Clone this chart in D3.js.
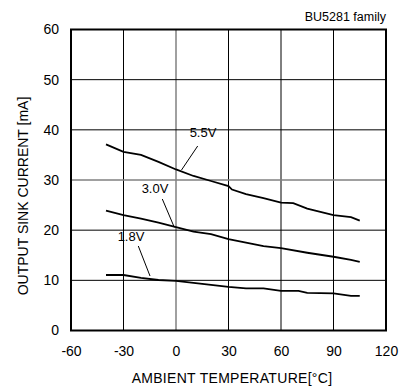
<!DOCTYPE html>
<html><head><meta charset="utf-8">
<script src="https://cdn.jsdelivr.net/npm/d3@7"></script>
<style>body{margin:0;background:#fff;}svg{display:block;font-family:"Liberation Sans",Arial,sans-serif;}</style>
</head><body>
<svg id="c" width="408" height="387"></svg>
<script>
const temps = [-40,-30,-20,-10,0,10,20,30,32,40,50,60,67,75,90,100,105];
const v55 = [37.1,35.6,35.0,33.6,32.1,30.8,29.8,28.8,28.1,27.2,26.4,25.5,25.4,24.3,23.0,22.6,21.9];
const t30 = [-40,-30,-20,-10,0,10,20,30,40,50,60,75,90,100,105];
const v30 = [23.9,23.0,22.3,21.5,20.6,19.7,19.2,18.2,17.5,16.8,16.4,15.5,14.7,14.1,13.7];
const t18 = [-40,-30,-20,-10,0,10,20,30,40,50,60,70,75,90,100,105];
const v18 = [11.06,11.06,10.5,10.07,9.9,9.5,9.1,8.7,8.4,8.4,7.9,7.9,7.5,7.4,6.9,6.9];
const xTicks = [-60,-30,0,30,60,90,120];
const yTicks = [0,10,20,30,40,50,60];
const seriesLabels = ["5.5V","3.0V","1.8V"];

const svg = d3.select("#c");
const L=71, R=386, T=29.5, B=330.5;
const x = d3.scaleLinear().domain([-60,120]).range([L,R]);
const y = d3.scaleLinear().domain([0,60]).range([B,T]);

// grid
const g = svg.append("g");
xTicks.slice(1,-1).forEach(t=>{
  g.append("line").attr("x1",x(t)).attr("x2",x(t)).attr("y1",T).attr("y2",B)
   .attr("stroke", t===0 ? "#808080" : "#000").attr("stroke-width", t===0?1.5:1);
});
yTicks.slice(1,-1).forEach(t=>{
  g.append("line").attr("y1",y(t)).attr("y2",y(t)).attr("x1",L).attr("x2",R)
   .attr("stroke", t===30 ? "#808080" : "#000").attr("stroke-width", t===30?1.5:1);
});
svg.append("rect").attr("x",L).attr("y",T).attr("width",R-L).attr("height",B-T)
  .attr("fill","none").attr("stroke","#000").attr("stroke-width",2);

// axes (labels only)
const xa = svg.append("g").attr("transform",`translate(0,${B})`)
  .call(d3.axisBottom(x).tickValues(xTicks).tickFormat(d=>String(d)).tickSize(0).tickPadding(16));
xa.select(".domain").remove();
xa.selectAll("text").attr("font-size",14).attr("fill","#000").attr("font-family","Liberation Sans, Arial, sans-serif");
const ya = svg.append("g").attr("transform",`translate(${L},0)`)
  .call(d3.axisLeft(y).tickValues(yTicks).tickFormat(d=>String(d)).tickSize(0).tickPadding(12));
ya.select(".domain").remove();
ya.selectAll("text").attr("font-size",14).attr("fill","#000").attr("font-family","Liberation Sans, Arial, sans-serif");

// curves
const line = d3.line().x(d=>x(d[0])).y(d=>y(d[1]));
[[temps,v55],[t30,v30],[t18,v18]].forEach(([ts,vs])=>{
  svg.append("path").datum(ts.map((t,i)=>[t,vs[i]])).attr("d",line)
    .attr("fill","none").attr("stroke","#000").attr("stroke-width",1.8);
});

// labels and leaders
const lab = [
  {t:seriesLabels[0], tx:203, ty:137, x1:197.7, y1:146, x2:181.5, y2:170},
  {t:seriesLabels[1], tx:155, ty:193, x1:162.3, y1:199, x2:174.3, y2:227.3},
  {t:seriesLabels[2], tx:131, ty:241, x1:138.3, y1:246, x2:150, y2:276}
];
lab.forEach(d=>{
  svg.append("text").attr("x",d.tx).attr("y",d.ty).attr("text-anchor","middle")
    .attr("font-size",13).text(d.t);
  svg.append("line").attr("x1",d.x1).attr("y1",d.y1).attr("x2",d.x2).attr("y2",d.y2)
    .attr("stroke","#000").attr("stroke-width",1);
});

svg.append("text").attr("x",386).attr("y",21).attr("text-anchor","end")
  .attr("font-size",12.5).text("BU5281 family");
svg.append("text").attr("x",232).attr("y",383).attr("text-anchor","middle")
  .attr("font-size",14).attr("letter-spacing",0.3).text("AMBIENT TEMPERATURE[\u00B0C]");
svg.append("text").attr("transform",`translate(28,${(T+B)/2 + 16}) rotate(-90)`)
  .attr("text-anchor","middle").attr("font-size",14)
  .text("OUTPUT SINK CURRENT [mA]");
</script>
</body></html>
